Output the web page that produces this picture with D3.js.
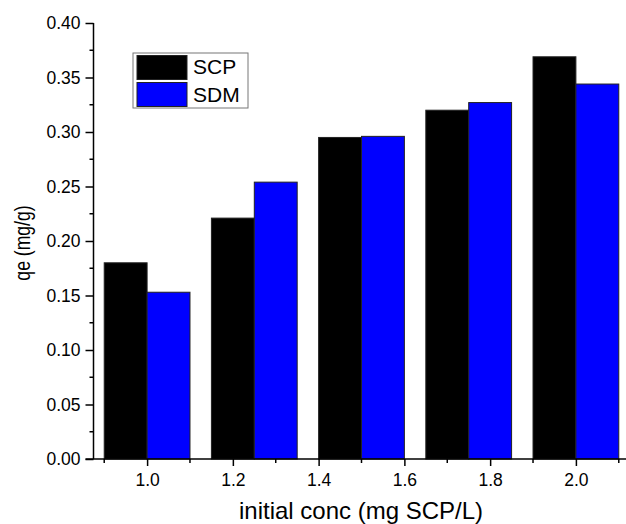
<!DOCTYPE html>
<html>
<head>
<meta charset="utf-8">
<script src="https://cdn.jsdelivr.net/npm/d3@7"></script>
<style>
  html, body { margin: 0; padding: 0; background: #fff; }
  svg { display: block; font-family: "Liberation Sans", Arial, sans-serif; }
</style>
</head>
<body>
<svg id="chart" width="626" height="524"></svg>
<script>
// initial concentration of each group (bar pair meets at this x)
const concs = [1.0, 1.25, 1.5, 1.75, 2.0];
const scpValues = [0.180, 0.221, 0.295, 0.320, 0.369];
const sdmValues = [0.153, 0.254, 0.296, 0.327, 0.344];
const seriesNames = ['SCP', 'SDM'];
const xTickValues = [1.0, 1.2, 1.4, 1.6, 1.8, 2.0];
const xMinorTicks = [0.9, 1.1, 1.3, 1.5, 1.7, 1.9, 2.1];
const yTickValues = [0, 0.05, 0.10, 0.15, 0.20, 0.25, 0.30, 0.35, 0.40];
const yMinorTicks = [0.025, 0.075, 0.125, 0.175, 0.225, 0.275, 0.325, 0.375];

const colors = ['#000000', '#0000ff'];
const barW = 0.1; // bar width in x units

const svg = d3.select('#chart');

const x = d3.scaleLinear().domain([0.875, 2.125]).range([93.5, 629.5]);
const y = d3.scaleLinear().domain([0, 0.40]).range([459, 23]);

// bars: SCP left of the group value, SDM right of it
const series = [scpValues, sdmValues];
series.forEach((vals, si) => {
  svg.append('g')
    .selectAll('rect')
    .data(concs.map((c, i) => ({ c, v: vals[i] })))
    .join('rect')
      .attr('x', d => x(si === 0 ? d.c - barW : d.c))
      .attr('width', d => x(d.c + barW) - x(d.c))
      .attr('y', d => y(d.v))
      .attr('height', d => y(0) - y(d.v))
      .attr('fill', colors[si])
      .attr('stroke', '#222')
      .attr('stroke-width', 1);
});

// x axis
const xAxis = d3.axisBottom(x)
  .tickValues(xTickValues)
  .tickFormat(d3.format('.1f'))
  .tickSize(7)
  .tickPadding(8);
const gx = svg.append('g')
  .attr('transform', `translate(0,${y(0)})`)
  .call(xAxis);
gx.select('.domain').attr('d', `M${x(0.875) - 8},0H${x(2.125)}`);
gx.append('g')
  .selectAll('line')
  .data(xMinorTicks)
  .join('line')
    .attr('x1', d => x(d)).attr('x2', d => x(d))
    .attr('y1', 0).attr('y2', 4)
    .attr('stroke', '#000');

// y axis
const yAxis = d3.axisLeft(y)
  .tickValues(yTickValues)
  .tickFormat(d3.format('.2f'))
  .tickSize(8)
  .tickPadding(5);
const gy = svg.append('g')
  .attr('transform', `translate(${x(0.875)},0)`)
  .call(yAxis);
gy.select('.domain').attr('d', `M0,${y(0.40)}V${y(0)}`);
gy.append('g')
  .selectAll('line')
  .data(yMinorTicks)
  .join('line')
    .attr('x1', 0).attr('x2', -4)
    .attr('y1', d => y(d)).attr('y2', d => y(d))
    .attr('stroke', '#000');

[gx, gy].forEach(g => {
  g.selectAll('.domain').attr('stroke', '#000').attr('stroke-width', 1.5);
  g.selectAll('line').attr('stroke', '#000').attr('stroke-width', 1.5);
  g.selectAll('text')
    .attr('font-family', '"Liberation Sans", Arial, sans-serif')
    .attr('font-size', 17.5)
    .attr('fill', '#000');
});

// axis titles
svg.append('text')
  .attr('x', 361)
  .attr('y', 519)
  .attr('text-anchor', 'middle')
  .attr('font-size', 24)
  .text('initial conc (mg SCP/L)');

// y title looks squeezed along its length in the original
svg.append('text')
  .attr('transform', 'translate(29.5,243) rotate(-90) scale(0.8,1)')
  .attr('text-anchor', 'middle')
  .attr('font-size', 22)
  .text('qe (mg/g)');

// legend
const legend = svg.append('g').attr('transform', 'translate(133,53)');
legend.append('rect')
  .attr('x', 0).attr('y', 0)
  .attr('width', 115).attr('height', 55)
  .attr('fill', '#fff')
  .attr('stroke', '#777')
  .attr('stroke-width', 1);
seriesNames.forEach((name, i) => {
  legend.append('rect')
    .attr('x', 4).attr('y', 2.5 + i * 27)
    .attr('width', 50).attr('height', 24)
    .attr('fill', colors[i])
    .attr('stroke', '#222')
    .attr('stroke-width', 1);
  legend.append('text')
    .attr('x', 60).attr('y', 21 + i * 28)
    .attr('font-size', 21)
    .text(name);
});
</script>
</body>
</html>
